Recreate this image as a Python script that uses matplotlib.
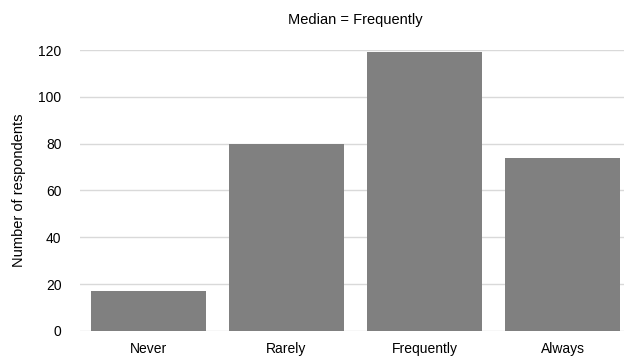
import matplotlib.pyplot as plt

categories = ["Never", "Rarely", "Frequently", "Always"]
counts = [17, 80, 119, 74]
yticks = [0, 20, 40, 60, 80, 100, 120]

plt.rcParams['font.family'] = ['Liberation Sans', 'DejaVu Sans']

fig = plt.figure(figsize=(6.24, 3.6), dpi=100)
ax = fig.add_axes([79.5 / 624, 0.081, 552 / 624, 0.78])

ax.bar(categories, counts, width=0.833, color="#808080", zorder=3)

ax.set_ylim(0, 120)
ax.set_xlim(-0.5, 3.5)
ax.set_yticks(yticks)
ax.grid(axis="y", color="#d9d9d9", linewidth=1, zorder=0)
ax.tick_params(axis="both", length=0, labelsize=10, colors="#000000")
ax.tick_params(axis="x", pad=8)
ax.tick_params(axis="y", pad=13)
for s in ax.spines.values():
    s.set_visible(False)

ax.set_ylabel("Number of respondents", fontsize=10.5, labelpad=9)
ax.set_title("Median = Frequently", fontsize=10.5, pad=19)

fig.savefig("out.png", dpi=100)
